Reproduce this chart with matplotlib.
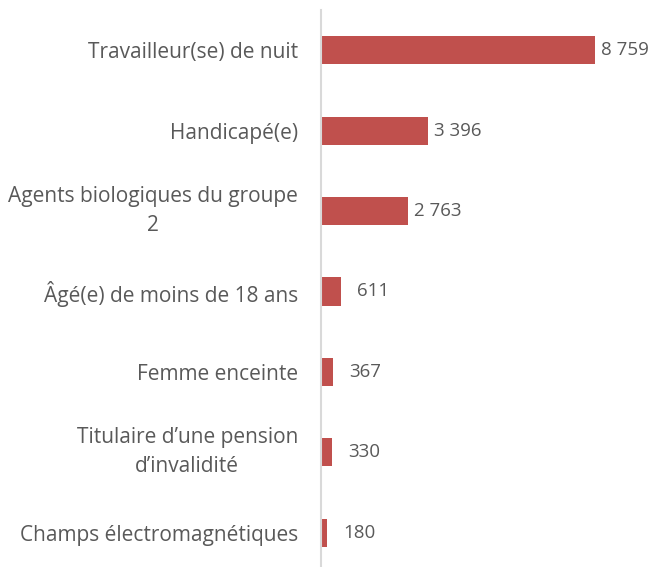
import matplotlib.pyplot as plt

categories = [
    "Travailleur(se) de nuit",
    "Handicapé(e)",
    "Agents biologiques du groupe\n2",
    "Âgé(e) de moins de 18 ans",
    "Femme enceinte",
    "Titulaire d\u2019une pension\nd\u2019invalidité",
    "Champs électromagnétiques",
]
values = [8759, 3396, 2763, 611, 367, 330, 180]
value_labels = ["8 759", "3 396", "2 763", "611", "367", "330", "180"]

bar_color = "#C0504D"
text_color = "#595959"

plt.rcParams['font.family'] = ['Open Sans', 'DejaVu Sans']

fig = plt.figure(figsize=(6.58, 5.67), dpi=100)
ax = fig.add_axes([0.4886, -0.0106, 0.5114, 0.993])

y = list(range(len(categories)))
ax.barh(y, values, height=0.35, color=bar_color)
ax.set_ylim(len(categories) - 0.5, -0.5)
ax.set_xlim(0, 10777)

# Excel's number format leaves a blank digit slot in front of short numbers
for yi, v, lab in zip(y, values, value_labels):
    off = 4.5 if v >= 1000 else 11.5
    ax.annotate(lab, (v, yi), xytext=(off, 0), textcoords="offset points",
                va="center", ha="left", fontsize=13.5, color=text_color)

ax.set_yticks(y)
ax.set_yticklabels(categories, fontsize=15, color=text_color,
                   multialignment="center", linespacing=1.5)
for t in ax.get_yticklabels():
    if "\n" in t.get_text():
        t.set_verticalalignment("center")
ax.tick_params(axis="y", length=0, pad=17)
ax.set_xticks([])

for s in ["top", "right", "bottom"]:
    ax.spines[s].set_visible(False)
ax.spines["left"].set_color("#D9D9D9")
ax.spines["left"].set_linewidth(1.5)

fig.savefig("out.png", dpi=100)
